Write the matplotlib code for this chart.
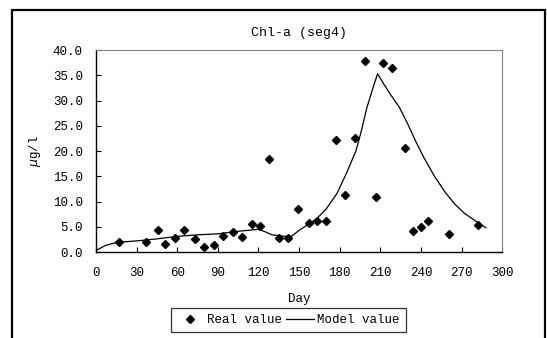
from pylab import *
from matplotlib import patches
rcParams['xtick.direction'] = 'in'
rcParams['ytick.direction'] = 'in'
rcParams['font.family'] = ['Liberation Mono', 'DejaVu Sans']

# measured chl-a (diamonds)
real_day = [17, 37, 46, 51, 58, 65, 73, 80, 87, 94, 101, 108, 115, 121, 128,
            135, 142, 149, 157, 163, 170, 177, 184, 191, 199, 207, 212, 219,
            228, 234, 240, 245, 261, 282]
real_val = [1.9, 2.0, 4.3, 1.6, 2.8, 4.3, 2.6, 0.9, 1.3, 3.2, 4.0, 3.0, 5.5,
            5.1, 18.4, 2.7, 2.8, 8.5, 5.7, 6.2, 6.1, 22.2, 11.3, 22.5, 37.9,
            10.9, 37.5, 36.5, 20.5, 4.1, 4.9, 6.2, 3.6, 5.4]

# model curve
model_day = [0, 7, 15, 30, 45, 60, 75, 90, 105, 120, 125, 130, 140, 145, 150,
             157, 163, 170, 178, 185, 192, 196, 200, 204, 208, 212, 218, 224,
             230, 236, 242, 250, 258, 265, 272, 280, 288]
model_val = [0.3, 1.3, 1.9, 2.2, 2.6, 3.1, 3.4, 3.6, 4.1, 4.5, 4.0, 3.4, 3.1,
             3.2, 4.3, 5.5, 6.6, 8.5, 11.6, 15.6, 20.0, 24.0, 28.5, 32.0, 35.3,
             33.5, 31.0, 28.7, 25.5, 22.0, 18.8, 15.0, 11.8, 9.5, 7.7, 6.2, 4.8]

fig = figure(figsize=(5.47, 3.38), dpi=100)
ax = fig.add_axes([0.1755, 0.2544, 0.7425, 0.5976])

ax.plot(real_day, real_val, 'D', color='k', markersize=4.5, label='Real value')
ax.plot(model_day, model_val, '-', color='k', lw=0.9, label='Model value')

ax.set_xlim(0, 300)
ax.set_ylim(0, 40)
ax.set_xticks(arange(0, 301, 30))
ax.set_yticks(arange(0, 41, 5))
ax.set_yticklabels(['%.1f' % v for v in arange(0, 41, 5)])
ax.tick_params(labelsize=9, length=3.5, width=0.8, colors='k')
ax.tick_params(axis='x', pad=11)
ax.tick_params(axis='y', pad=9.5)
for s in ['top', 'right']:
    ax.spines[s].set_color('#808080')
for s in ['left', 'bottom']:
    ax.spines[s].set_color('k')
    ax.spines[s].set_linewidth(1.0)

ax.set_title('Chl-a (seg4)', fontsize=9.5, pad=10)
ax.set_xlabel('Day', fontsize=9, labelpad=10)
ax.set_ylabel(r'$\mu$g/l', fontsize=9, labelpad=7)

leg = fig.legend(loc='center', bbox_to_anchor=(288 / 547, 1 - 320 / 338),
                 ncol=2, fontsize=9, frameon=True, fancybox=False,
                 handlelength=2.2, handletextpad=0.3, columnspacing=0.3,
                 borderpad=0.45, borderaxespad=0)
leg.get_frame().set_edgecolor('k')
leg.get_frame().set_linewidth(0.9)

# outer chart border
fig.patches.append(patches.Rectangle((12 / 547, -0.1), 533 / 547, 1.1 - 10 / 338,
                                     transform=fig.transFigure, fill=False,
                                     edgecolor='k', lw=1.6))

savefig('out.png', dpi=100)
